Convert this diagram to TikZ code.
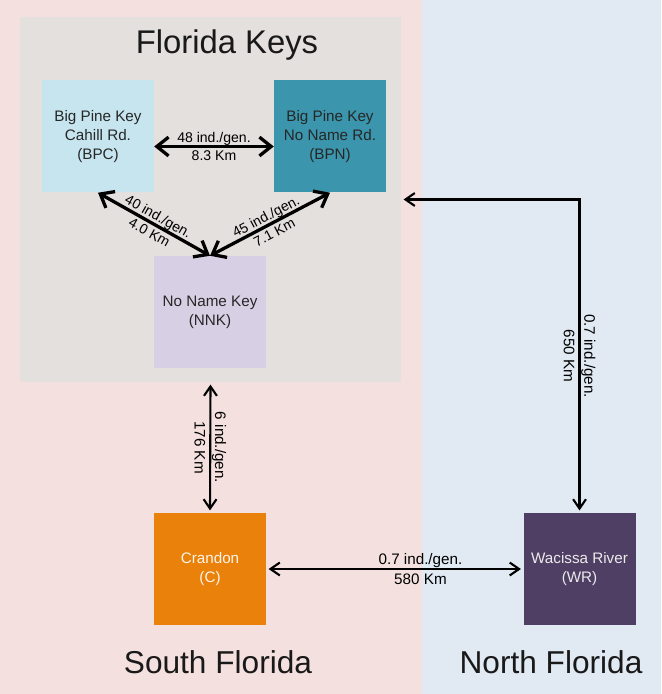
\documentclass[tikz,border=0pt]{standalone}
\usepackage{fontspec}
\setmainfont{Liberation Sans}
\usetikzlibrary{positioning,arrows.meta}
\definecolor{southbg}{HTML}{F4E1DF}
\definecolor{northbg}{HTML}{E1E9F3}
\definecolor{keysbg}{HTML}{E3E0DE}
\definecolor{bpccol}{HTML}{C7E5EE}
\definecolor{bpncol}{HTML}{3B95AD}
\definecolor{nnkcol}{HTML}{D7D0E5}
\definecolor{crdcol}{HTML}{E9810A}
\definecolor{wrcol}{HTML}{503F64}

\begin{document}
\begin{tikzpicture}[x=0.03cm, y=0.03cm, on grid,
    site/.style={minimum width=3.36cm, minimum height=3.36cm, inner sep=0pt,
      align=center, text=black!85, font=\fontsize{13}{16}\selectfont},
    region/.style={font=\fontsize{27}{32}\selectfont, text=black!90},
    thickflow/.style={{Straight Barb[length=10pt,width=16pt]}-{Straight Barb[length=10pt,width=16pt]},
      line width=2.8pt},
    flow/.style={{Straight Barb[length=8pt,width=11pt]}-{Straight Barb[length=8pt,width=11pt]},
      line width=1.8pt, shorten <=2pt, shorten >=2pt},
    toplab/.style={align=center, inner sep=0pt, font=\fontsize{12}{15.5}\selectfont},
    botlab/.style={align=center, inner sep=0pt, font=\fontsize{13}{17.5}\selectfont}]
  \useasboundingbox (0,0) rectangle (661,694);
  % backgrounds
  \fill[southbg] (0,0) rectangle (422,694);
  \fill[northbg] (422,0) rectangle (661,694);
  \node[fill=keysbg, minimum width=11.43cm, minimum height=10.95cm, inner sep=0pt] (keys) at (210.5,494.5) {};
  \node[font=\fontsize{28}{34}\selectfont, text=black!90] (keystitle) at (227,649) {Florida Keys};
  % populations
  \node[site, fill=bpccol] (bpc) at (98,557.5) {Big Pine Key\\Cahill Rd.\\(BPC)};
  \node[site, fill=bpncol, right=6.96cm of bpc] (bpn) {Big Pine Key\\No Name Rd.\\(BPN)};
  \node[site, fill=nnkcol, below right=5.265cm and 3.36cm of bpc] (nnk) {No Name Key\\(NNK)};
  \node[site, fill=crdcol, text=white!92!orange, below=7.71cm of nnk] (crd) {Crandon\\(C)};
  \node[site, fill=wrcol, text=white!92!black, right=11.085cm of crd] (wr) {Wacissa River\\(WR)};
  \node[region] (south) at (218,32) {South Florida};
  \node[region] (north) at (551,32) {North Florida};
  % gene flow
  \draw[thickflow] ([yshift=-3mm]bpc.east) -- node[toplab]{48 ind./gen.\\8.3 Km} ([yshift=-3mm]bpn.west);
  \draw[thickflow] (bpc.south) -- node[toplab, sloped]{40 ind./gen.\\4.0 Km} (nnk.north);
  \draw[thickflow] (bpn.south) -- node[toplab, sloped]{45 ind./gen.\\7.1 Km} (nnk.north);
  \draw[flow] (keys.south) -- node[botlab, rotate=-90]{6 ind./gen.\\176 Km} (crd.north);
  \draw[flow] (crd.east) -- node[botlab, pos=0.6]{0.7 ind./gen.\\580 Km} (wr.west);
  \draw[flow] (keys.east) -| node[botlab, rotate=-90, pos=0.75]{0.7 ind./gen.\\650 Km} (wr.north);
\end{tikzpicture}
\end{document}
